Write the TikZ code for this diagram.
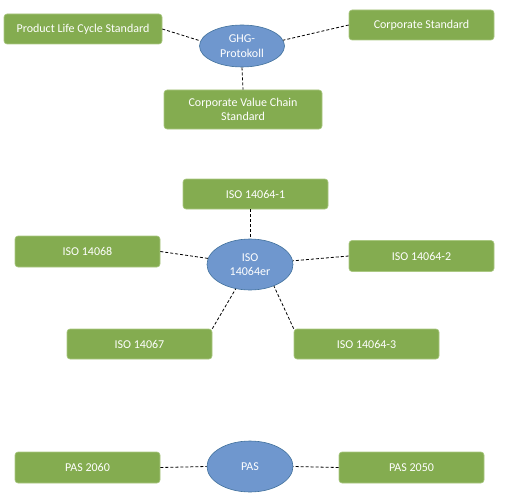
\documentclass[tikz,border=0pt]{standalone}
\usepackage{fontspec}
\setmainfont{Carlito}
\usetikzlibrary{shapes.geometric}
\definecolor{boxgreen}{RGB}{132,172,80}
\definecolor{boxedge}{RGB}{170,200,130}
\definecolor{ovalblue}{RGB}{111,151,206}
\definecolor{ovaledge}{RGB}{65,113,156}

\begin{document}
\begin{tikzpicture}[x=1pt,y=-1pt,font=\fontsize{12}{14.5}\selectfont,
  stdbox/.style={draw=boxedge,fill=boxgreen,text=white,rounded corners=3pt,
    minimum width=145pt,minimum height=31pt,inner sep=2pt,align=center,line width=0.6pt},
  hub/.style={ellipse,draw=ovaledge,fill=ovalblue,text=white,align=center,
    minimum width=86pt,minimum height=51pt,inner sep=0pt,line width=0.6pt},
  link/.style={dash pattern=on 3pt off 2pt,line width=0.8pt}]
\useasboundingbox (0,0) rectangle (505,500);
% GHG
\node[hub,minimum width=85pt,minimum height=42pt] (ghg) at (242,46) {GHG-\\Protokoll};
\node[stdbox,minimum width=158pt,minimum height=30pt] (plc) at (83,29) {Product Life Cycle Standard};
\node[stdbox,minimum height=30pt] (cs) at (421.5,25) {Corporate Standard};
\node[stdbox,minimum width=158pt,minimum height=39pt] (cvc) at (243,109.5) {Corporate Value Chain\\Standard};
\draw[link] (plc.east) -- (ghg.173);
\draw[link] (cs.west) -- (ghg.8);
\draw[link] (ghg.south) -- (cvc.north);
% ISO
\node[hub] (iso) at (250,264.5) {ISO\\14064er};
\node[stdbox,minimum height=30pt] (iso1) at (255.5,194) {ISO 14064-1};
\node[stdbox] (iso68) at (87.5,251.5) {ISO 14068};
\node[stdbox] (iso2) at (421.5,256) {ISO 14064-2};
\node[stdbox,minimum height=30pt] (iso67) at (139.5,344) {ISO 14067};
\node[stdbox,minimum height=30pt] (iso3) at (366.5,344) {ISO 14064-3};
\draw[link] (iso1.south -| iso.north) -- (iso.north);
\draw[link] (iso68.east) -- (iso);
\draw[link] (iso2.west) -- (iso);
\draw[link] (iso67.north east) -- (iso);
\draw[link] (iso3.north west) -- (iso.-42);
% PAS
\node[hub] (pas) at (250,466.5) {PAS};
\node[stdbox] (pas60) at (87.5,467.5) {PAS 2060};
\node[stdbox] (pas50) at (411.5,467.5) {PAS 2050};
\draw[link] (pas60.east) -- (pas.west);
\draw[link] (pas50.west) -- (pas.east);
\end{tikzpicture}
\end{document}
